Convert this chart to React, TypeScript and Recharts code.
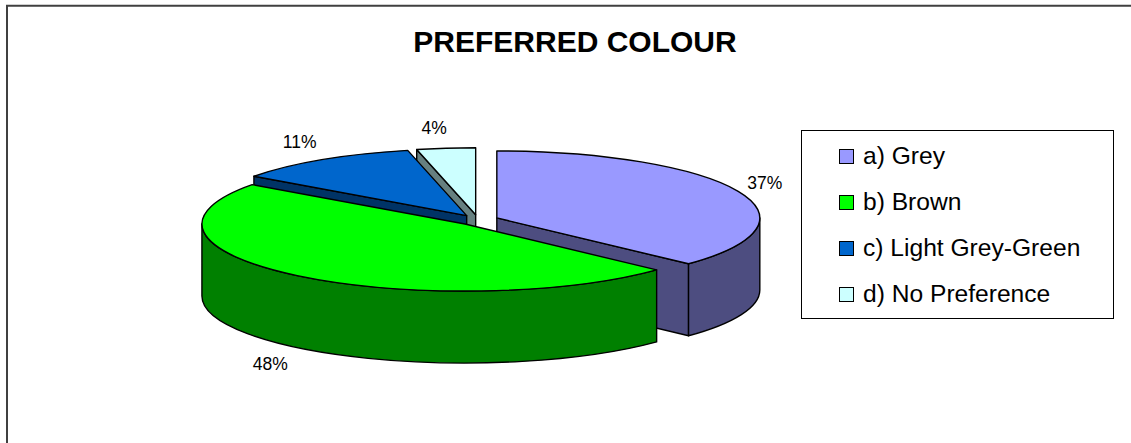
import { Legend, Pie, PieChart } from "recharts";

const names = ["a) Grey", "b) Brown", "c) Light Grey-Green", "d) No Preference"];
const values = [37, 48, 11.4, 3.6];
const topColours = ["#9999FF", "#00FF00", "#0066CC", "#CCFFFF"];
const sideColours = ["#4D4D80", "#008000", "#003366", "#668080"];
// back to front, so nearer slices cover the ones behind them
const paintOrder = [3, 2, 0, 1];
const labelNudge = [-5, -5, -3, -8];

const pieData = names.map((name, i) => ({
  name,
  value: values[i],
  fill: topColours[i],
  side: sideColours[i],
}));

const RX = 263;
const RY = 67;
const DEPTH = 72;
const EXPLODE = 0.078;
const CX = 478;
const CY = 220;

const rad = (deg: number) => (deg * Math.PI) / 180;

// angles are clockwise from 12 o'clock, on the squashed ellipse
function Slice(props: any) {
  const a0 = 90 - props.startAngle;
  const a1 = 90 - props.endAngle;
  const mid = (a0 + a1) / 2;
  const cx = props.cx + EXPLODE * RX * Math.sin(rad(mid));
  const cy = props.cy - EXPLODE * RY * Math.cos(rad(mid));
  const px = (a: number) => cx + RX * Math.sin(rad(a));
  const py = (a: number) => cy - RY * Math.cos(rad(a));
  const large = a1 - a0 > 180 ? 1 : 0;
  const line = { stroke: "#000", strokeWidth: 1.4, strokeLinejoin: "round" as const };

  const face = (a: number) =>
    `M${cx},${cy} L${px(a)},${py(a)} L${px(a)},${py(a) + DEPTH} L${cx},${cy + DEPTH} Z`;

  const r0 = Math.max(a0, 90);
  const r1 = Math.min(a1, 270);

  return (
    <g>
      {a0 > 180 && a0 < 360 && <path d={face(a0)} fill={props.payload.side} {...line} />}
      {a1 > 0 && a1 < 180 && <path d={face(a1)} fill={props.payload.side} {...line} />}
      {r1 > r0 && (
        <path
          d={`M${px(r0)},${py(r0)} A${RX},${RY} 0 0 1 ${px(r1)},${py(r1)} L${px(r1)},${py(r1) + DEPTH} A${RX},${RY} 0 0 0 ${px(r0)},${py(r0) + DEPTH} Z`}
          fill={props.payload.side}
          {...line}
        />
      )}
      <path
        d={`M${cx},${cy} L${px(a0)},${py(a0)} A${RX},${RY} 0 ${large} 1 ${px(a1)},${py(a1)} Z`}
        fill={props.payload.fill}
        {...line}
      />
    </g>
  );
}

const sliceFor = (i: number) => (props: any) =>
  props.payload.name === names[i] ? <Slice {...props} /> : <g />;

function PercentLabel(props: any) {
  const a = 90 - props.midAngle;
  const idx = names.indexOf(props.name);
  const front = a > 90 && a < 270 ? DEPTH : 0;
  const x = props.cx + 318 * Math.sin(rad(a)) + labelNudge[idx];
  const y = props.cy - 93 * Math.cos(rad(a)) + front;
  return (
    <text
      x={x}
      y={y}
      textAnchor="middle"
      dominantBaseline="central"
      fontSize={17.5}
      fontFamily="Liberation Sans"
      fill="#000"
    >
      {Math.round(props.percent * 100)}%
    </text>
  );
}

function LegendBox() {
  return (
    <div
      style={{
        boxSizing: "border-box",
        width: 313,
        height: 189,
        border: "1px solid #000",
        background: "#fff",
        fontFamily: "Liberation Sans",
        fontSize: 24.6,
        position: "relative",
      }}
    >
      {names.map((name, i) => (
        <div
          key={name}
          style={{
            position: "absolute",
            left: 37,
            top: 25 + i * 46,
            height: 0,
            display: "flex",
            alignItems: "center",
            whiteSpace: "nowrap",
          }}
        >
          <span
            style={{
              boxSizing: "border-box",
              width: 15,
              height: 15,
              border: "1px solid #000",
              background: topColours[i],
              marginRight: 9,
            }}
          />
          {name}
        </div>
      ))}
    </div>
  );
}

export default function App() {
  return (
    <div style={{ position: "absolute", left: 0, top: 0, width: 1131, height: 443, background: "#fff" }}>
      <PieChart width={1131} height={443} margin={{ top: 0, right: 0, bottom: 0, left: 0 }}>
        {/* the frame is cropped: only its top and left sides are in the picture */}
        <path d="M7,443 L7,5.8 L1131,5.8" fill="none" stroke="#404040" strokeWidth={2} />
        <text
          x={575}
          y={52}
          textAnchor="middle"
          fontSize={30}
          fontWeight="bold"
          fontFamily="Liberation Sans"
          fill="#000"
        >
          PREFERRED COLOUR
        </text>
        {paintOrder.map((i) => (
          <Pie
            key={i}
            data={pieData}
            dataKey="value"
            nameKey="name"
            cx={CX}
            cy={CY}
            outerRadius={RX}
            startAngle={90}
            endAngle={-270}
            shape={sliceFor(i)}
            label={i === 1 ? PercentLabel : false}
            labelLine={false}
            isAnimationActive={false}
          />
        ))}
        <Legend
          content={<LegendBox />}
          wrapperStyle={{ position: "absolute", left: 801, top: 130, width: 313, height: 189 }}
        />
      </PieChart>
    </div>
  );
}
